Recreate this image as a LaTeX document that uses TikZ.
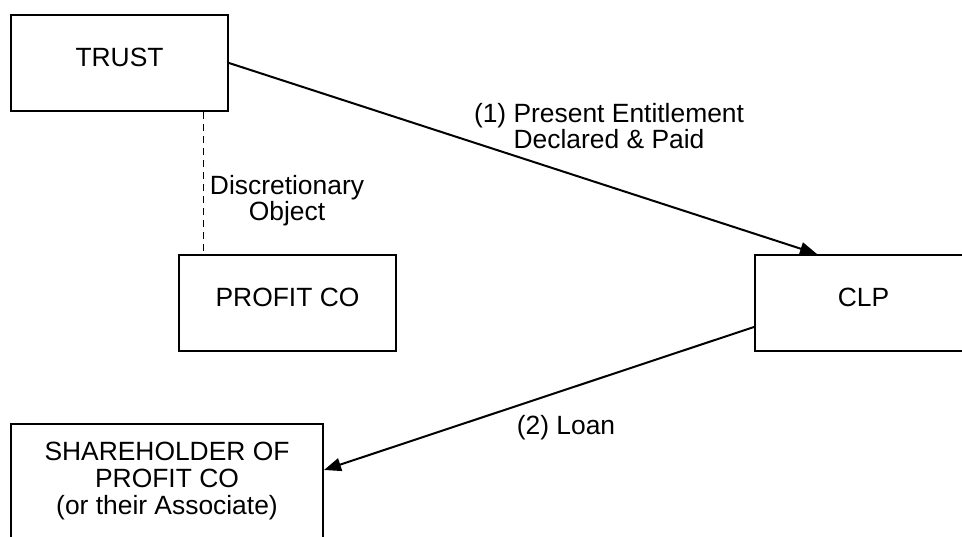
\documentclass[tikz,border=0pt]{standalone}
\usepackage{fontspec}
\setmainfont{Liberation Sans}
\usetikzlibrary{arrows.meta,calc}
\tikzset{
  entity/.style={draw,line width=2pt,minimum width=217pt,minimum height=96pt,inner sep=0pt,text depth=11pt},
  tag/.style={anchor=north,inner sep=0pt,align=center},
  flow/.style={line width=2pt,-{Triangle[length=17pt,width=13pt]}}
}
\begin{document}
\begin{tikzpicture}[x=1pt,y=-1pt,font=\fontsize{26.4}{26.6}\selectfont]
\useasboundingbox(0,0)rectangle(962,537);
\node[entity](trust)at(119.5,63){TRUST};
\node[entity](profitco)at(287.5,303){PROFIT CO};
\node[entity](clp)at(863.5,303){CLP};
\node[draw,line width=2pt,anchor=north,align=center,minimum width=312pt,inner xsep=0pt,inner ysep=18.5pt,text depth=100pt](shareholder)at(167,423){SHAREHOLDER OF\\PROFIT CO\\(or their Associate)};
% labels
\node[tag](discretionary)at(287,175){Discretionary\\Object};
\node[tag](entitlement)at(609,103){(1) Present Entitlement\\Declared \& Paid};
\node[tag](loan)at(566,415){(2) Loan};
% connectors
\coordinate(dashx)at($(trust.south)!0.5!(profitco.north)$);
\draw[line width=1.8pt,dash pattern=on 7pt off 5pt](dashx|-trust.south)--(dashx|-profitco.north);
\draw[flow](trust.east)--([xshift=63pt]clp.north west);
\draw[flow]([yshift=-24pt]clp.west)--([yshift=-47pt]shareholder.north east);
\end{tikzpicture}
\end{document}
